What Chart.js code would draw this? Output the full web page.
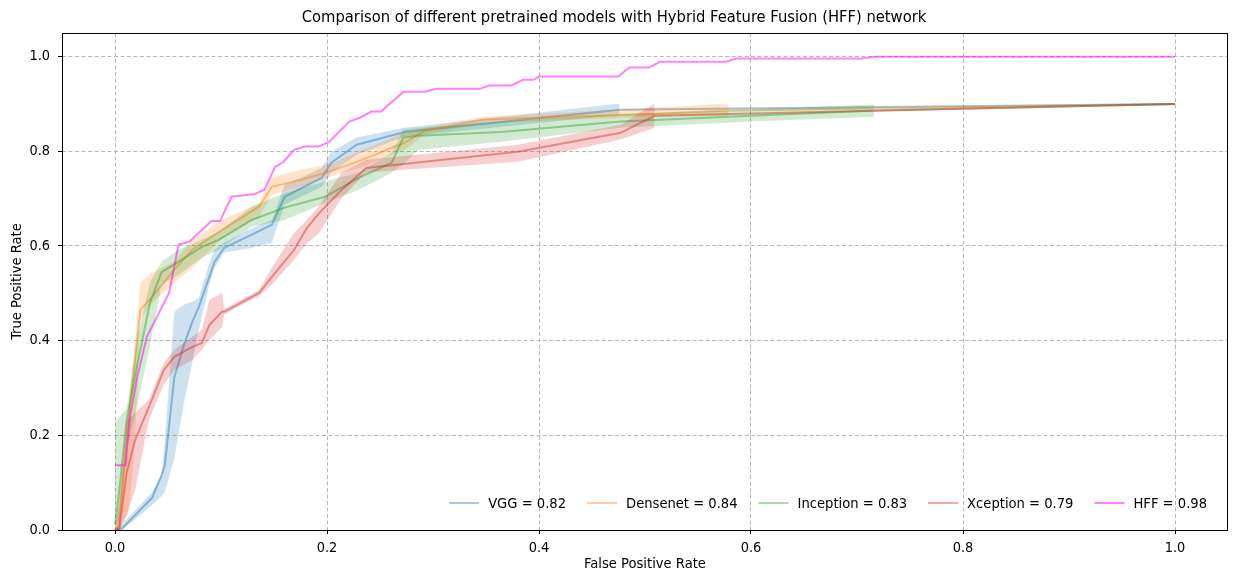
<!DOCTYPE html>
<html>
<head>
<meta charset="utf-8">
<script src="https://cdn.jsdelivr.net/npm/chart.js@4.4.1/dist/chart.umd.min.js"></script>
<style>
  html, body { margin: 0; padding: 0; background: #fff; }
  canvas { display: block; }
</style>
</head>
<body>
<canvas id="myChart" width="1234" height="573"></canvas>
<script>
// ROC curves (fpr, lower band, mean, upper band)
const xTicks = [0, 0.2, 0.4, 0.6, 0.8, 1.0];
const yTicks = [0, 0.2, 0.4, 0.6, 0.8, 1.0];

const modelNames = ["VGG", "Densenet", "Inception", "Xception", "HFF"];
const aucValues = [0.82, 0.84, 0.83, 0.79, 0.98];

// all four bands end in one line to this point
const tailFpr = 1.0;
const tailTpr = 0.90;

const vggFpr = [0, 0.007, 0.035, 0.044, 0.047, 0.056, 0.065, 0.073, 0.079, 0.089, 0.094, 0.103, 0.129, 0.148, 0.160, 0.195, 0.204, 0.228, 0.273, 0.476];
const vggLow = [0, 0, 0.053, 0.072, 0.080, 0.152, 0.268, 0.355, 0.423, 0.518, 0.554, 0.586, 0.596, 0.607, 0.687, 0.725, 0.755, 0.793, 0.831, 0.877];
const vggMean = [0, 0.004, 0.068, 0.116, 0.137, 0.323, 0.391, 0.440, 0.471, 0.535, 0.567, 0.596, 0.624, 0.645, 0.704, 0.744, 0.776, 0.814, 0.841, 0.888];
const vggHigh = [0, 0.013, 0.080, 0.118, 0.190, 0.461, 0.476, 0.482, 0.490, 0.564, 0.592, 0.607, 0.638, 0.655, 0.729, 0.765, 0.799, 0.829, 0.850, 0.901];

const denseFpr = [0, 0.004, 0.013, 0.019, 0.024, 0.035, 0.056, 0.073, 0.101, 0.136, 0.148, 0.176, 0.202, 0.233, 0.273, 0.292, 0.348, 0.506, 0.579];
const denseLow = [0, 0, 0.038, 0.190, 0.444, 0.480, 0.522, 0.554, 0.617, 0.662, 0.708, 0.725, 0.746, 0.767, 0.803, 0.835, 0.860, 0.873, 0.875];
const denseMean = [0, 0.011, 0.233, 0.364, 0.465, 0.493, 0.550, 0.592, 0.634, 0.683, 0.725, 0.740, 0.757, 0.782, 0.818, 0.843, 0.867, 0.879, 0.886];
const denseHigh = [0, 0.074, 0.264, 0.397, 0.524, 0.543, 0.567, 0.613, 0.655, 0.691, 0.746, 0.761, 0.772, 0.803, 0.839, 0.850, 0.873, 0.892, 0.901];

const incFpr = [0, 0.004, 0.011, 0.021, 0.033, 0.044, 0.060, 0.082, 0.098, 0.129, 0.160, 0.198, 0.230, 0.261, 0.272, 0.286, 0.364, 0.477, 0.600, 0.716];
const incLow = [0.004, 0.021, 0.169, 0.264, 0.391, 0.518, 0.539, 0.575, 0.592, 0.641, 0.655, 0.691, 0.719, 0.755, 0.772, 0.803, 0.820, 0.850, 0.863, 0.873];
const incMean = [0.011, 0.085, 0.233, 0.349, 0.480, 0.545, 0.567, 0.598, 0.613, 0.655, 0.681, 0.704, 0.744, 0.776, 0.829, 0.833, 0.841, 0.863, 0.875, 0.886];
const incHigh = [0.228, 0.237, 0.258, 0.402, 0.524, 0.567, 0.592, 0.613, 0.630, 0.683, 0.712, 0.736, 0.755, 0.797, 0.846, 0.850, 0.863, 0.879, 0.888, 0.899];

const xcpFpr = [0, 0.004, 0.011, 0.019, 0.032, 0.046, 0.056, 0.073, 0.082, 0.089, 0.101, 0.103, 0.136, 0.148, 0.169, 0.181, 0.192, 0.214, 0.237, 0.380, 0.477, 0.509];
const xcpLow = [0, 0, 0.032, 0.085, 0.233, 0.307, 0.338, 0.359, 0.381, 0.402, 0.429, 0.455, 0.495, 0.518, 0.571, 0.605, 0.626, 0.702, 0.755, 0.778, 0.825, 0.850];
const xcpMean = [0, 0.004, 0.121, 0.190, 0.260, 0.338, 0.366, 0.387, 0.395, 0.433, 0.461, 0.461, 0.501, 0.535, 0.592, 0.638, 0.668, 0.719, 0.765, 0.799, 0.839, 0.875];
const xcpHigh = [0, 0.053, 0.233, 0.247, 0.275, 0.353, 0.381, 0.408, 0.423, 0.486, 0.501, 0.467, 0.507, 0.554, 0.628, 0.655, 0.683, 0.755, 0.782, 0.814, 0.856, 0.901];

const hffFpr = [0, 0.010, 0.014, 0.021, 0.030, 0.051, 0.060, 0.070, 0.091, 0.099, 0.110, 0.132, 0.141, 0.151, 0.159, 0.169, 0.179, 0.192, 0.202, 0.221, 0.231, 0.242, 0.251, 0.272, 0.292, 0.303, 0.344, 0.353, 0.374, 0.385, 0.395, 0.400, 0.475, 0.485, 0.504, 0.514, 0.576, 0.586, 0.704, 0.717, 1.0];
const hffTpr = [0.137, 0.137, 0.239, 0.323, 0.408, 0.501, 0.603, 0.609, 0.653, 0.653, 0.704, 0.710, 0.719, 0.767, 0.778, 0.803, 0.810, 0.810, 0.820, 0.863, 0.871, 0.884, 0.884, 0.926, 0.926, 0.932, 0.932, 0.939, 0.939, 0.951, 0.951, 0.958, 0.958, 0.977, 0.977, 0.989, 0.989, 0.996, 0.996, 1.0, 1.0];

const colors = [
  [31, 119, 180],
  [255, 127, 14],
  [44, 160, 44],
  [214, 39, 40],
  [255, 0, 255],
];

const rgba = (c, a) => `rgba(${c[0]}, ${c[1]}, ${c[2]}, ${a})`;
const pts = (xs, ys) => xs.map((x, i) => ({ x: x, y: ys[i] }));

const bandModels = [
  { fpr: vggFpr, low: vggLow, mean: vggMean, high: vggHigh },
  { fpr: denseFpr, low: denseLow, mean: denseMean, high: denseHigh },
  { fpr: incFpr, low: incLow, mean: incMean, high: incHigh },
  { fpr: xcpFpr, low: xcpLow, mean: xcpMean, high: xcpHigh },
];

let datasets = [];

// HFF first so it sits on top
datasets.push({
  label: modelNames[4],
  data: pts(hffFpr, hffTpr),
  borderColor: rgba(colors[4], 0.5),
  borderWidth: 2,
  pointRadius: 0,
  fill: false,
});

for (let i = bandModels.length - 1; i >= 0; i--) {
  const m = bandModels[i];
  datasets.push({
    label: modelNames[i],
    data: pts(m.fpr, m.mean).concat([{ x: tailFpr, y: tailTpr }]),
    borderColor: rgba(colors[i], 0.45),
    borderWidth: 2,
    pointRadius: 0,
    fill: false,
  });
  datasets.push({
    label: modelNames[i] + " low",
    data: pts(m.fpr, m.low),
    borderWidth: 0,
    borderColor: "rgba(0,0,0,0)",
    pointRadius: 0,
    fill: false,
  });
  datasets.push({
    label: modelNames[i] + " high",
    data: pts(m.fpr, m.high),
    borderWidth: 0,
    borderColor: "rgba(0,0,0,0)",
    backgroundColor: rgba(colors[i], 0.22),
    pointRadius: 0,
    fill: "-1",
  });
}

const fontFamily = "'DejaVu Sans Condensed', 'DejaVu Sans', sans-serif";

// black frame on all four sides, like the matplotlib axes box
const framePlugin = {
  id: "frame",
  afterDraw: (chart) => {
    const { ctx, chartArea } = chart;
    ctx.save();
    ctx.strokeStyle = "#000";
    ctx.lineWidth = 1;
    ctx.strokeRect(chartArea.left + 0.5, chartArea.top + 0.5, chartArea.right - chartArea.left - 1, chartArea.bottom - chartArea.top);
    ctx.restore();
  },
};

// legend in the lower right corner of the plot
const legendPlugin = {
  id: "innerLegend",
  afterDraw: (chart) => {
    const { ctx, chartArea } = chart;
    ctx.save();
    ctx.font = "14.6px " + fontFamily;
    ctx.textBaseline = "middle";
    const lineLen = 30;
    const gap = 9;
    const itemGap = 21;
    const labels = modelNames.map((n, i) => n + " = " + aucValues[i].toFixed(2));
    let total = 0;
    for (let i = 0; i < labels.length; i++) {
      total += lineLen + gap + ctx.measureText(labels[i]).width;
    }
    total += itemGap * (labels.length - 1);
    let x = chartArea.right - 21 - total;
    const y = chartArea.bottom - 27;
    for (let i = 0; i < labels.length; i++) {
      ctx.strokeStyle = rgba(colors[i], i == 4 ? 0.5 : 0.4);
      ctx.lineWidth = 2;
      ctx.beginPath();
      ctx.moveTo(x, y);
      ctx.lineTo(x + lineLen, y);
      ctx.stroke();
      x += lineLen + gap;
      ctx.fillStyle = "#000";
      ctx.fillText(labels[i], x, y + 1);
      x += ctx.measureText(labels[i]).width + itemGap;
    }
    ctx.restore();
  },
};

const gridOpts = {
  color: "#b8b8b8",
  lineWidth: 1,
  tickColor: "#000",
  tickLength: 4,
  tickBorderDash: [],
  tickWidth: 1,
};

new Chart(document.getElementById("myChart").getContext("2d"), {
  type: "line",
  data: { datasets: datasets },
  plugins: [framePlugin, legendPlugin],
  options: {
    responsive: false,
    animation: false,
    devicePixelRatio: 1,
    elements: { line: { tension: 0 } },
    layout: { padding: { left: 0, right: 6, top: 0, bottom: 0 } },
    plugins: {
      legend: { display: false },
      tooltip: { enabled: false },
      title: {
        display: true,
        text: "Comparison of different pretrained models with Hybrid Feature Fusion (HFF) network",
        color: "#000",
        font: { family: fontFamily, size: 16.4, weight: "normal", lineHeight: 1.2 },
        padding: { top: 8, bottom: 5.3 },
      },
    },
    scales: {
      x: {
        type: "linear",
        min: -0.05,
        max: 1.05,
        afterBuildTicks: (scale) => {
          scale.ticks = xTicks.map((v) => ({ value: v }));
        },
        afterFit: (scale) => {
          scale.height = 43;
        },
        ticks: {
          color: "#000",
          font: { family: fontFamily, size: 14.4 },
          padding: 6,
          maxRotation: 0,
          callback: (v) => v.toFixed(1),
        },
        grid: gridOpts,
        border: { display: false, dash: [4, 2.5] },
        title: {
          display: true,
          text: "False Positive Rate",
          color: "#000",
          font: { family: fontFamily, size: 14.6 },
          padding: { top: 0, bottom: 0 },
        },
      },
      y: {
        type: "linear",
        min: 0,
        max: 1.05,
        afterBuildTicks: (scale) => {
          scale.ticks = yTicks.map((v) => ({ value: v }));
        },
        afterFit: (scale) => {
          scale.width = 62;
        },
        ticks: {
          color: "#000",
          font: { family: fontFamily, size: 14.4 },
          padding: 8,
          callback: (v) => v.toFixed(1),
        },
        grid: gridOpts,
        border: { display: false, dash: [4, 2.5] },
        title: {
          display: true,
          text: "True Positive Rate",
          color: "#000",
          font: { family: fontFamily, size: 14.6 },
          padding: { top: 8, bottom: 0 },
        },
      },
    },
  },
});
</script>
</body>
</html>
